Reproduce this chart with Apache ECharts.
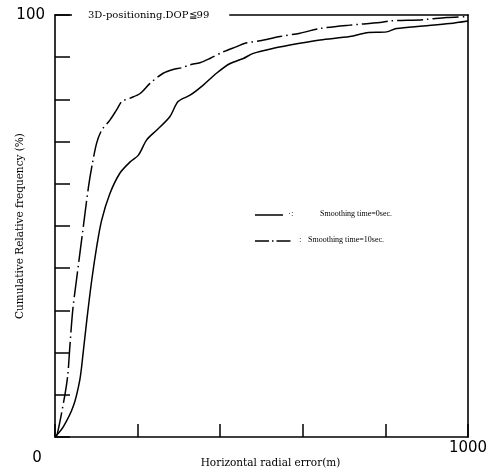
<!DOCTYPE html>
<html>
<head>
<meta charset="utf-8">
<script src="https://cdn.jsdelivr.net/npm/echarts@6/dist/echarts.min.js"></script>
<style>html,body{margin:0;padding:0;background:#fff}#c{width:489px;height:474px}</style>
</head>
<body>
<div id="c"></div>
<script>
// Smoothing time = 0 sec (solid)
const errT0 = [0, 20, 44, 60, 68, 77, 89, 101, 113, 133, 157, 182, 202, 222, 246, 278, 298, 327, 359, 391, 424, 456, 480, 529, 593, 642, 714, 755, 803, 827, 892, 956, 1000];
const freqT0 = [0, 2.4, 7.2, 13.5, 19.8, 27.7, 37.2, 45.1, 51.4, 57.7, 62.5, 65.2, 66.8, 70.4, 72.7, 75.9, 79.5, 81.0, 83.4, 86.2, 88.5, 89.7, 90.9, 92.1, 93.3, 94.1, 94.9, 95.8, 96.0, 96.8, 97.4, 98.0, 98.6];
// Smoothing time = 10 sec (dash-dot)
const errT10 = [0, 5, 24, 31, 35, 43, 52, 66, 81, 90, 101, 113, 133, 149, 162, 182, 206, 230, 262, 286, 307, 327, 351, 375, 408, 440, 460, 496, 545, 593, 642, 714, 787, 811, 891, 948, 1000];
const freqT10 = [0, 0.5, 10.0, 14.7, 20.1, 30.1, 37.2, 47.9, 59.2, 64.5, 69.7, 72.7, 75.1, 77.5, 79.5, 80.3, 81.4, 83.8, 86.2, 87.1, 87.5, 88.2, 88.7, 89.7, 91.3, 92.5, 93.3, 93.9, 94.9, 95.7, 96.8, 97.6, 98.2, 98.6, 98.9, 99.4, 99.6];

const xTickLabels = {0: '0', 1000: '1000'};
const yTickLabels = {100: '100'};
const titleText = '3D-positioning.DOP≦99';
const xName = 'Horizontal radial error(m)';
const yName = 'Cumulative Relative frequency (%)';
const legendNames = ['Smoothing time=0sec.', 'Smoothing time=10sec.'];

const pair = (xs, ys) => xs.map((x, i) => [x, ys[i]]);
const dashDot = [26, 4, 1.5, 4];
const serif = 'DejaVu Serif';

const chart = echarts.init(document.getElementById('c'), null, {renderer: 'canvas'});
chart.setOption({
  animation: false,
  backgroundColor: '#fff',
  title: {
    text: titleText, left: 72, top: 8,
    padding: [2, 20, 2, 16], backgroundColor: '#fff',
    textStyle: {fontFamily: serif, fontSize: 10, fontWeight: 'normal', color: '#000'}
  },
  grid: {left: 55, right: 21, top: 15, bottom: 37, containLabel: false, outerBoundsMode: 'none'},
  xAxis: [{
    type: 'value', min: 0, max: 1000, interval: 200, position: 'bottom',
    axisLine: {onZero: false, lineStyle: {color: '#000', width: 1.6}},
    axisTick: {inside: true, length: 13, lineStyle: {color: '#000', width: 1.5}},
    splitLine: {show: false},
    axisLabel: {
      margin: 4, fontFamily: 'DejaVu Sans', fontSize: 15, color: '#000',
      formatter: v => v === 0 ? '{z|' + xTickLabels[0] + '}' : (xTickLabels[v] || ''),
      rich: {z: {fontFamily: 'DejaVu Sans', fontSize: 15, color: '#000', padding: [10, 36, 0, 0]}}
    },
    name: xName, nameLocation: 'middle', nameGap: 21, nameMoveOverlap: false,
    nameTextStyle: {fontFamily: serif, fontSize: 10.5, color: '#000', padding: [0, 0, 0, 18]}
  }, {
    type: 'value', min: 0, max: 1000, position: 'top',
    axisLine: {show: true, onZero: false, lineStyle: {color: '#000', width: 1.6}},
    axisTick: {show: false}, axisLabel: {show: false}, splitLine: {show: false}
  }],
  yAxis: [{
    type: 'value', min: 0, max: 100, interval: 10, position: 'left',
    axisLine: {show: true, onZero: false, lineStyle: {color: '#000', width: 1.6}},
    axisTick: {inside: true, length: 15, lineStyle: {color: '#000', width: 1.5}},
    splitLine: {show: false},
    axisLabel: {
      margin: 10, fontFamily: 'DejaVu Sans', fontSize: 15, color: '#000',
      formatter: v => yTickLabels[v] || ''
    },
    name: yName, nameLocation: 'middle', nameGap: 29, nameMoveOverlap: false,
    nameTextStyle: {fontFamily: serif, fontSize: 10.5, color: '#000'}
  }, {
    type: 'value', min: 0, max: 100, position: 'right',
    axisLine: {show: true, onZero: false, lineStyle: {color: '#000', width: 1.6}},
    axisTick: {show: false}, axisLabel: {show: false}, splitLine: {show: false}
  }],
  series: [{
    name: legendNames[0], type: 'line', data: pair(errT0, freqT0), smooth: 0.3,
    showSymbol: false, lineStyle: {color: '#000', width: 1.5, type: 'solid'}
  }, {
    name: legendNames[1], type: 'line', data: pair(errT10, freqT10), smooth: 0.3,
    showSymbol: false, lineStyle: {color: '#000', width: 1.5, type: dashDot}
  }],
  graphic: [
    {type: 'line', shape: {x1: 255, y1: 215, x2: 283, y2: 215}, style: {stroke: '#000', lineWidth: 1.5}},
    {type: 'text', left: 288, top: 209, style: {text: '·:', fontFamily: 'Liberation Serif', fontSize: 9, fill: '#000'}},
    {type: 'text', left: 320, top: 210, style: {text: legendNames[0], fontFamily: 'Liberation Serif', fontSize: 8, fill: '#000'}},
    {type: 'line', shape: {x1: 255, y1: 241, x2: 291, y2: 241}, style: {stroke: '#000', lineWidth: 1.5, lineDash: [14, 3, 1.5, 3]}},
    {type: 'text', left: 299, top: 235, style: {text: ':', fontFamily: 'Liberation Serif', fontSize: 9, fill: '#000'}},
    {type: 'text', left: 308, top: 236, style: {text: legendNames[1], fontFamily: 'Liberation Serif', fontSize: 8, fill: '#000'}}
  ]
});
</script>
</body>
</html>
